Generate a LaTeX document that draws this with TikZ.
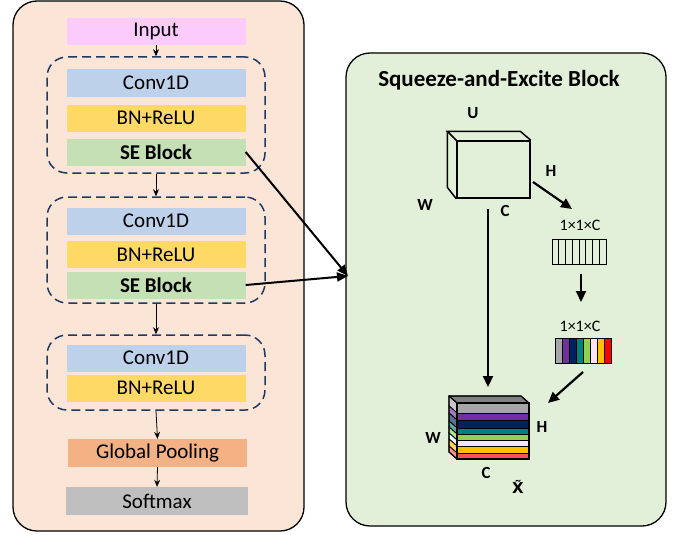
\documentclass[tikz,border=0pt]{standalone}
\usepackage{fontspec}
\setmainfont{Carlito}
\newfontfamily\dejavu{DejaVu Sans}
\usetikzlibrary{arrows.meta}
\definecolor{lpeach}{HTML}{FBE5D6}
\definecolor{rgreen}{HTML}{E2F0D9}
\definecolor{cinput}{HTML}{FACBFB}
\definecolor{cconv}{HTML}{BDD1EA}
\definecolor{cbn}{HTML}{FFD966}
\definecolor{cse}{HTML}{C5E0B4}
\definecolor{cgp}{HTML}{F4B183}
\definecolor{csm}{HTML}{BFBFBF}
\definecolor{dnavy}{HTML}{1F3864}
\definecolor{sgray}{HTML}{A6A6A6}
\definecolor{spurple}{HTML}{7030A0}
\definecolor{snavy}{HTML}{002060}
\definecolor{steal}{HTML}{008080}
\definecolor{sgreen}{HTML}{92D050}
\definecolor{spink}{HTML}{FBE3F8}
\definecolor{sorange}{HTML}{FFC000}
\definecolor{sred}{HTML}{FF0000}
\definecolor{sred2}{HTML}{FF5050}
\definecolor{stop}{HTML}{808080}
\begin{document}
\begin{tikzpicture}[x=1pt,y=-1pt,
  panel/.style={draw=black, line width=1.3pt, rounded corners=24pt, inner sep=0pt},
  layerbox/.style={minimum width=179pt, minimum height=27pt, inner sep=0pt, font=\fontsize{21}{24}\selectfont},
  dashbox/.style={draw=dnavy, line width=1.5pt, dash pattern=on 9pt off 5pt, rounded corners=20pt, minimum width=218pt, inner sep=0pt},
  flow/.style={-{Stealth[length=7pt,width=6pt]}, line width=0.8pt},
  bigarrow/.style={-{Triangle[length=11pt,width=10pt]}, line width=2.2pt},
  lbl/.style={font=\bfseries\fontsize{17}{19}\selectfont, inner sep=0pt},
  dimlbl/.style={font=\fontsize{16}{18}\selectfont, inner sep=0pt},
  cell/.style={line width=1pt}
]
\useasboundingbox (0,0) rectangle (677,535);
% panels
\node[panel, fill=lpeach, minimum width=291pt, minimum height=530pt] (lp) at (158.5,266) {};
\node[panel, fill=rgreen, minimum width=320pt, minimum height=473pt] (rp) at (506,289.5) {};
% left column
\node[layerbox, fill=cinput] (inp) at (156,31.5) {Input};
\node[dashbox, minimum height=116pt] (d1) at (156,115) {};
\node[layerbox, fill=cconv] (cv1) at (156,83) {Conv1D};
\node[layerbox, fill=cbn] (bn1) at (156,118) {BN+ReLU};
\node[layerbox, fill=cse, font=\bfseries\fontsize{21}{24}\selectfont] (se1) at (156,152) {SE Block};
\node[dashbox, minimum height=106pt] (d2) at (156,250) {};
\node[layerbox, fill=cconv] (cv2) at (156,221) {Conv1D};
\node[layerbox, fill=cbn] (bn2) at (156,254.5) {BN+ReLU};
\node[layerbox, fill=cse, font=\bfseries\fontsize{21}{24}\selectfont] (se2) at (156,285) {SE Block};
\node[dashbox, minimum height=75pt] (d3) at (156,372.5) {};
\node[layerbox, fill=cconv] (cv3) at (156,358) {Conv1D};
\node[layerbox, fill=cbn] (bn3) at (156,388) {BN+ReLU};
\node[layerbox, fill=cgp, minimum height=28pt] (gp) at (157.5,453) {Global Pooling};
\node[layerbox, fill=csm, minimum height=28pt, minimum width=182pt] (sm) at (157,501) {Softmax};
\draw[flow] (inp.south) -- (d1.north);
\draw[flow] (d1.south) -- (d2.north);
\draw[flow] (d2.south) -- (d3.north);
\draw[flow] (d3.south) -- (gp.north);
\draw[flow] (gp.south) -- (sm.north);
% connectors to SE block panel
\coordinate (tgt) at (348,276);
\draw[-{Triangle[length=11pt,width=9pt]}, line width=2pt] (se1.east) -- (tgt);
\draw[-{Triangle[length=11pt,width=9pt]}, line width=2pt] (se2.east) -- (tgt);
% title
\node[font=\bfseries\fontsize{23}{26}\selectfont] (title) at (499,80) {Squeeze-and-Excite Block};
% cube U
\node[draw, line width=1.5pt, minimum width=73pt, minimum height=57pt, inner sep=0pt] (cubeU) at (493.5,169.5) {};
\draw[line width=1.5pt, line join=miter] (cubeU.north west) -- ++(-9,-9) -- ++(73,0) -- (cubeU.north east);
\draw[line width=1.5pt] (cubeU.north west) ++(-9,-9) -- ++(0,56) -- (cubeU.south west);
\node[lbl] (lU) at (473,113) {U};
\node[lbl] (lW) at (425,205) {W};
\node[lbl] (lC) at (505,211) {C};
\node[lbl] (lH) at (551,171) {H};
% vector 1
\node[dimlbl] (dl1) at (580,225) {1×1×C};
\node[draw, line width=1pt, minimum width=54pt, minimum height=25pt, inner sep=0pt] (v1) at (579,251.5) {};
\foreach \i in {1,...,7} {\draw[cell] (552+\i*6.75,239) -- (552+\i*6.75,264);}
% vector 2
\node[dimlbl] (dl2) at (580,326) {1×1×C};
\foreach \c [count=\i from 0] in {sgray,spurple,snavy,steal,sgreen,spink,sorange,sred} {
  \filldraw[fill=\c, draw=black, line width=1pt] (555+\i*7,338) rectangle (562+\i*7,363);
}
\node[draw, line width=1pt, minimum width=56pt, minimum height=25pt, inner sep=0pt] (v2) at (583,350.5) {};
% stacked block
\fill[stop, draw=black, line width=0.8pt] (449,396) -- (521,396) -- (529,403) -- (457,403) -- cycle;
\foreach \a/\b/\c in {403/413/sgray,413/420/spurple,420/428/snavy,428/434/steal,434/440/sgreen,440/446/spink,446/453/sorange,453/459/sred2} {
  \filldraw[fill=\c, draw=black, line width=0.8pt] (457,\a) rectangle (529,\b);
  \filldraw[fill=\c!65!white, draw=black, line width=0.8pt] (449,\a-7) -- (457,\a) -- (457,\b) -- (449,\b-7) -- cycle;
}
\node[draw, line width=1.2pt, minimum width=72pt, minimum height=56pt, inner sep=0pt] (stack) at (493,431) {};
\draw[line width=1.2pt] (449,396) -- (521,396) -- (529,403);
\draw[line width=1.2pt] (449,396) -- (449,452) -- (457,459);
\draw[line width=1.2pt] (449,396) -- (457,403);
\node[lbl] (sW) at (433,438) {W};
\node[lbl] (sH) at (542,427) {H};
\node[lbl] (sC) at (486,473) {C};
\node[font=\dejavu\bfseries\fontsize{15}{17}\selectfont, inner sep=0pt] (sX) at (518,487) {X̃};
% arrows in SE panel
\coordinate (a1s) at (533,182);
\coordinate (a1e) at (572,209);
\draw[bigarrow] (a1s) -- (a1e);
\coordinate (a2s) at (581,274);
\coordinate (a2e) at (581,302);
\draw[bigarrow] (a2s) -- (a2e);
\coordinate (a3s) at (583,372);
\coordinate (a3e) at (548,403);
\draw[bigarrow] (a3s) -- (a3e);
\coordinate (a4s) at (488,209);
\coordinate (a4e) at (488,387);
\draw[bigarrow] (a4s) -- (a4e);
\end{tikzpicture}
\end{document}
